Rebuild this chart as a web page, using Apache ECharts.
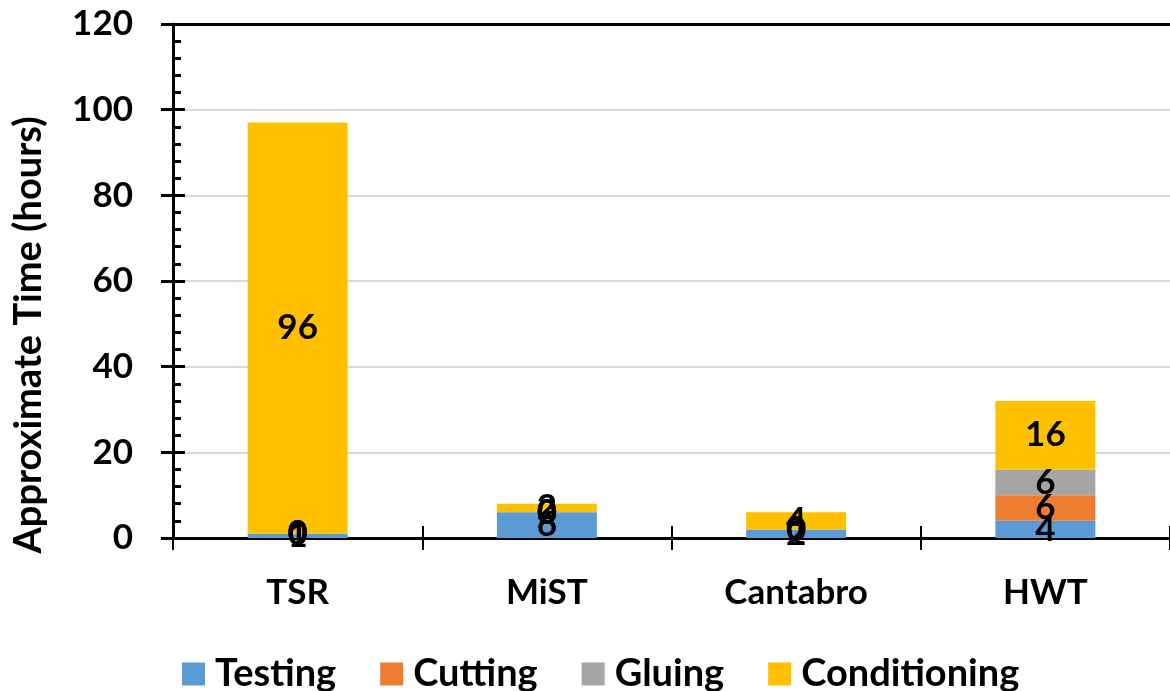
<!DOCTYPE html>
<html>
<head>
<meta charset="utf-8">
<script src="https://cdn.jsdelivr.net/npm/echarts@6/dist/echarts.min.js"></script>
<style>
  html, body { margin: 0; padding: 0; background: #fff; }
  #chart { width: 1170px; height: 691px; }
</style>
</head>
<body>
<div id="chart"></div>
<script>
// --- data ------------------------------------------------------------------
const categories = ["TSR", "MiST", "Cantabro", "HWT"];
const testing = [1, 6, 2, 4];
const cutting = [0, 0, 0, 6];
const gluing = [0, 0, 0, 6];
const conditioning = [96, 2, 4, 16];
const yTicks = { min: 0, max: 120, interval: 20 };

// --- look ------------------------------------------------------------------
const FONT = "Lato";
const COLORS = { Testing: "#5B9BD5", Cutting: "#ED7D31", Gluing: "#A5A5A5", Conditioning: "#FFC000" };

const labelStyle = {
  show: true,
  position: "inside",
  color: "#000",
  fontFamily: FONT,
  fontWeight: "bold",
  fontSize: 35,
};

function barSeries(name, data) {
  return {
    name,
    type: "bar",
    stack: "total",
    data,
    barWidth: 100,
    itemStyle: { color: COLORS[name] },
    label: labelStyle,
    xAxisIndex: 0,
    yAxisIndex: 0,
  };
}

const chart = echarts.init(document.getElementById("chart"), null, { renderer: "canvas" });
const grid = { left: 173, top: 24, width: 1003, height: 514 };

chart.setOption({
  animation: false,
  grid,
  legend: {
    top: 650,
    left: 177,
    itemWidth: 23,
    itemHeight: 23,
    itemGap: 44,
    icon: "rect",
    textStyle: { fontFamily: FONT, fontWeight: "bold", fontSize: 38, color: "#000", padding: [0, 0, 0, 5] },
    data: ["Testing", "Cutting", "Gluing", "Conditioning"],
  },
  xAxis: [
    {
      type: "category",
      data: categories,
      axisLine: { lineStyle: { color: "#000", width: 3 } },
      axisTick: { show: true, length: 12, lineStyle: { color: "#000", width: 2 } },
      axisLabel: { margin: 37, color: "#000", fontFamily: FONT, fontWeight: "bold", fontSize: 35 },
    },
    {
      // inward half of the crossing category ticks
      type: "category",
      data: categories,
      position: "bottom",
      axisLine: { show: false },
      axisTick: { show: true, inside: true, length: 12, lineStyle: { color: "#000", width: 2 } },
      axisLabel: { show: false },
    },
    {
      // top border
      type: "category",
      data: categories,
      position: "top",
      axisLine: { lineStyle: { color: "#000", width: 3 } },
      axisTick: { show: false },
      axisLabel: { show: false },
    },
  ],
  yAxis: [
    {
      type: "value",
      ...yTicks,
      axisLine: { show: true, lineStyle: { color: "#000", width: 3 } },
      axisTick: { show: true, length: 12, lineStyle: { color: "#000", width: 3 } },
      minorTick: { show: false },
      splitLine: { lineStyle: { color: "#D9D9D9", width: 2 } },
      axisLabel: { margin: 40, color: "#000", fontFamily: FONT, fontWeight: "bold", fontSize: 35 },
    },
    {
      // inward major + minor ticks
      type: "value",
      ...yTicks,
      position: "left",
      axisLine: { show: false },
      axisTick: { show: true, inside: true, length: 12, lineStyle: { color: "#000", width: 3 } },
      minorTick: { show: true, splitNumber: 5, length: 8, lineStyle: { color: "#000", width: 3 } },
      splitLine: { show: false },
      axisLabel: { show: false },
    },
  ],
  graphic: [
    {
      type: "text",
      x: 29,
      y: 335,
      rotation: Math.PI / 2,
      style: {
        text: "Approximate Time (hours)",
        fontFamily: FONT,
        fontWeight: "bold",
        fontSize: 38,
        fill: "#000",
        align: "center",
        verticalAlign: "middle",
      },
    },
  ],
  series: [
    barSeries("Testing", testing),
    barSeries("Cutting", cutting),
    barSeries("Gluing", gluing),
    barSeries("Conditioning", conditioning),
  ],
});
</script>
</body>
</html>
